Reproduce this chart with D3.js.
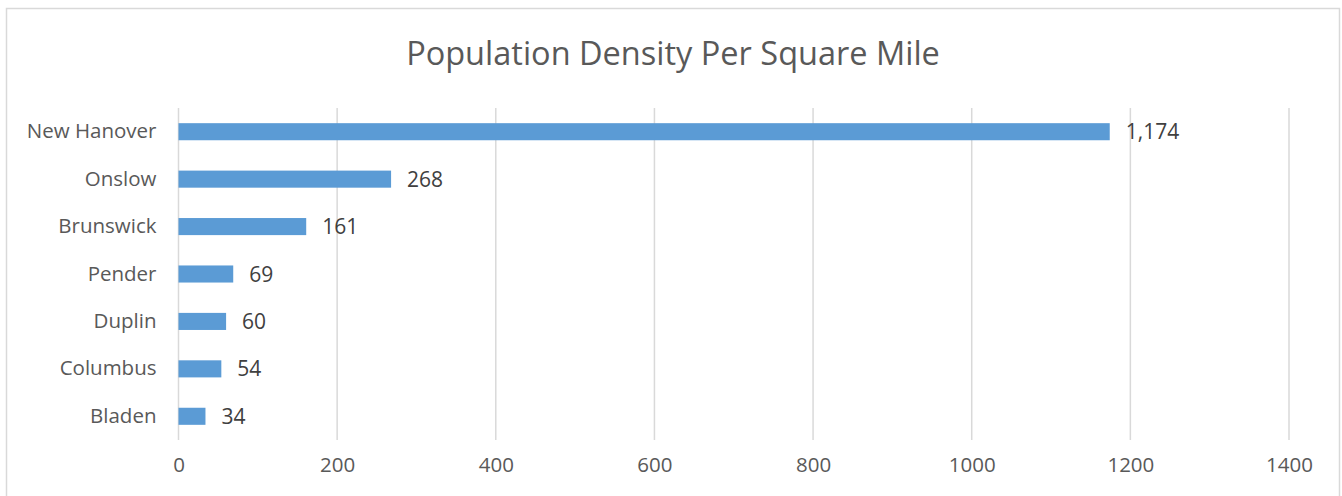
<!DOCTYPE html>
<html>
<head>
<meta charset="utf-8">
<script src="https://cdn.jsdelivr.net/npm/d3@7"></script>
<style>
  body { margin: 0; background: #fff; }
  svg { display: block; font-family: "Open Sans", sans-serif; }
</style>
</head>
<body>
<svg id="chart" width="1342" height="496"></svg>
<script>
  const counties = ['New Hanover', 'Onslow', 'Brunswick', 'Pender', 'Duplin', 'Columbus', 'Bladen'];
  const density = [1174, 268, 161, 69, 60, 54, 34];
  const xTicks = [0, 200, 400, 600, 800, 1000, 1200, 1400];

  const svg = d3.select('#chart');
  const margin = {top: 108, right: 53, bottom: 56, left: 178.5};
  const width = 1342 - margin.left - margin.right;
  const height = 496 - margin.top - margin.bottom;

  // chart frame
  svg.append('rect')
    .attr('x', 6.5).attr('y', 8.5)
    .attr('width', 1333).attr('height', 500)
    .attr('fill', '#fff').attr('stroke', '#d9d9d9').attr('stroke-width', 1.5);

  svg.append('text')
    .attr('x', 673).attr('y', 65)
    .attr('text-anchor', 'middle')
    .attr('fill', '#595959')
    .style('font-size', '32.5px')
    .text('Population Density Per Square Mile');

  const g = svg.append('g').attr('transform', `translate(${margin.left},${margin.top})`);

  const x = d3.scaleLinear().domain([0, 1400]).range([0, width]);
  const y = d3.scaleBand().domain(counties).range([0, height])
    .paddingInner(0.64).paddingOuter(0.32);

  // gridlines
  g.selectAll('.grid').data(xTicks).join('line')
    .attr('x1', d => x(d)).attr('x2', d => x(d))
    .attr('y1', 0).attr('y2', height)
    .attr('stroke', '#d9d9d9').attr('stroke-width', 1.5);

  const xAxis = g.append('g')
    .attr('transform', `translate(0,${height})`)
    .call(d3.axisBottom(x).tickValues(xTicks).tickFormat(d3.format('d')).tickSize(0).tickPadding(17));
  xAxis.select('.domain').remove();
  xAxis.selectAll('text').attr('fill', '#595959').style('font-size', '20.5px').style('font-family', '"Open Sans", sans-serif');

  const yAxis = g.append('g')
    .call(d3.axisLeft(y).tickSize(0).tickPadding(22));
  yAxis.select('.domain').remove();
  yAxis.selectAll('text').attr('fill', '#595959').style('font-size', '20.5px').style('font-family', '"Open Sans", sans-serif');

  const rows = counties.map((c, i) => ({county: c, value: density[i]}));

  g.selectAll('.bar').data(rows).join('rect')
    .attr('x', 0)
    .attr('y', d => y(d.county))
    .attr('width', d => x(d.value))
    .attr('height', y.bandwidth())
    .attr('fill', '#5b9bd5');

  g.selectAll('.lbl').data(rows).join('text')
    .attr('x', d => x(d.value) + 16)
    .attr('y', d => y(d.county) + y.bandwidth() / 2)
    .attr('dy', '0.36em')
    .attr('fill', '#404040')
    .style('font-size', '21px')
    .text(d => d3.format(',')(d.value));
</script>
</body>
</html>
